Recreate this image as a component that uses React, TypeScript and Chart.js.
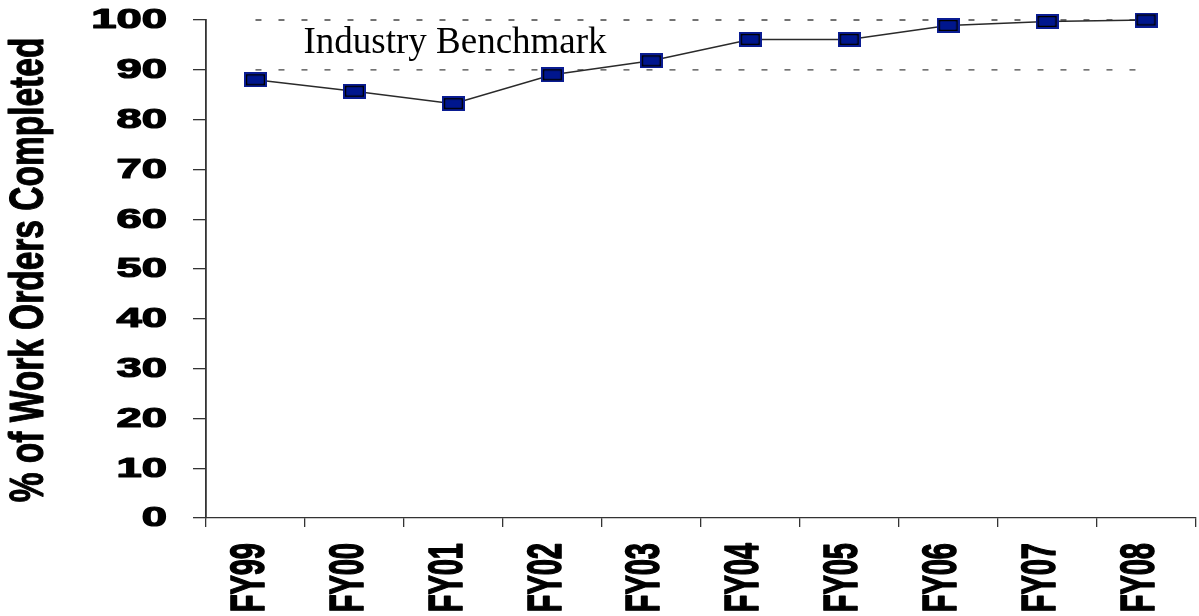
import React, { useEffect, useRef } from "react";
import { Chart, registerables } from "chart.js";

Chart.register(...registerables);

const categories = ["FY99", "FY00", "FY01", "FY02", "FY03", "FY04", "FY05", "FY06", "FY07", "FY08"];
const completed = [88, 85.7, 83.2, 89, 91.8, 96.1, 96.1, 98.9, 99.7, 100];
const benchmarkLow = [90, 90, 90, 90, 90, 90, 90, 90, 90, 90];
const benchmarkHigh = [100, 100, 100, 100, 100, 100, 100, 100, 100, 100];
const yTicks = [0, 10, 20, 30, 40, 50, 60, 70, 80, 90, 100];
const yTitle = "% of Work Orders Completed";
const benchmarkLabel = "Industry Benchmark";

function makeMarker(): HTMLCanvasElement {
  const c = document.createElement("canvas");
  c.width = 23;
  c.height = 15;
  const g = c.getContext("2d")!;
  g.fillStyle = "#0A1C92";
  g.fillRect(0, 0, 23, 15);
  g.strokeStyle = "#000000";
  g.lineWidth = 1.5;
  g.strokeRect(2.75, 2.75, 17.5, 9.5);
  g.fillStyle = "#00168E";
  g.fillRect(3.5, 3.5, 16, 8);
  return c;
}

function boldText(ctx: CanvasRenderingContext2D, s: string, w: number) {
  ctx.fillText(s, 0, 0);
  ctx.lineWidth = w;
  ctx.lineJoin = "round";
  ctx.strokeText(s, 0, 0);
}

const textPlugin = {
  id: "stretchedText",
  afterDraw(chart: any) {
    const ctx = chart.ctx as CanvasRenderingContext2D;
    const xs = chart.scales.x;
    const ys = chart.scales.y;
    ctx.save();
    ctx.fillStyle = "#000";
    ctx.strokeStyle = "#000";
    // y tick labels
    ctx.font = "bold 27px 'Liberation Sans', Arial, sans-serif";
    ctx.textAlign = "right";
    ctx.textBaseline = "middle";
    yTicks.forEach((v) => {
      ctx.save();
      ctx.translate(167, ys.getPixelForValue(v) + 1);
      ctx.scale(1.68, 1);
      boldText(ctx, String(v), 1.2);
      ctx.restore();
    });
    // x labels
    ctx.font = "bold 29px 'Liberation Sans', Arial, sans-serif";
    ctx.textAlign = "right";
    ctx.textBaseline = "middle";
    categories.forEach((lab, i) => {
      ctx.save();
      ctx.translate(xs.getPixelForValue(i) - 5, 543);
      ctx.scale(1.65, 1);
      ctx.rotate(-Math.PI / 2);
      boldText(ctx, lab, 1.0);
      ctx.restore();
    });
    // y title
    ctx.font = "bold 33.5px 'Liberation Sans', Arial, sans-serif";
    ctx.textAlign = "center";
    ctx.textBaseline = "middle";
    ctx.save();
    ctx.translate(30, (chart.chartArea.top + chart.chartArea.bottom) / 2 + 1);
    ctx.scale(1.45, 1);
    ctx.rotate(-Math.PI / 2);
    boldText(ctx, yTitle, 0.8);
    ctx.restore();
    // benchmark label
    ctx.font = "37px 'Liberation Serif', 'Times New Roman', serif";
    ctx.textAlign = "left";
    ctx.textBaseline = "alphabetic";
    ctx.fillText(benchmarkLabel, xs.getPixelForValue(0) + 48, ys.getPixelForValue(95) + 8);
    ctx.restore();
  },
};

export default function App() {
  const ref = useRef<HTMLCanvasElement>(null);
  useEffect(() => {
    if (!ref.current) return;
    const marker = makeMarker();
    const chart = new Chart(ref.current, {
      type: "line",
      data: {
        labels: categories,
        datasets: [
          {
            data: completed,
            borderColor: "#2a2a2a",
            borderWidth: 1.5,
            pointStyle: marker as any,
            pointRadius: 8,
            clip: false as any,
            tension: 0,
          },
          {
            data: benchmarkHigh,
            borderColor: "#444",
            borderWidth: 1.3,
            borderDash: [6, 17],
            pointRadius: 0,
            clip: false as any,
          },
          {
            data: benchmarkLow,
            borderColor: "#444",
            borderWidth: 1.3,
            borderDash: [6, 17],
            pointRadius: 0,
          },
        ],
      },
      options: {
        animation: false,
        responsive: true,
        maintainAspectRatio: false,
        layout: { padding: { left: 0, top: 20, right: 0, bottom: 0 } },
        plugins: { legend: { display: false }, tooltip: { enabled: false } },
        scales: {
          x: {
            type: "category",
            offset: true,
            grid: { offset: true, drawOnChartArea: false, drawTicks: true, tickLength: 9, color: "#333", lineWidth: 1.3 },
            border: { color: "#333", width: 1.3 },
            ticks: { display: false },
            afterFit: (s: any) => {
              s.height = 98;
            },
          },
          y: {
            min: 0,
            max: 100,
            ticks: { display: false, stepSize: 10 },
            grid: { drawOnChartArea: false, drawTicks: true, tickLength: 13, color: "#333", lineWidth: 1.3 },
            border: { color: "#333", width: 1.8 },
            afterFit: (s: any) => {
              s.width = 206;
            },
          },
        },
      },
      plugins: [textPlugin],
    });
    return () => chart.destroy();
  }, []);
  return (
    <div style={{ position: "fixed", left: 0, top: 0, width: 1205, height: 616, background: "#fff" }}>
      <canvas ref={ref} />
    </div>
  );
}
